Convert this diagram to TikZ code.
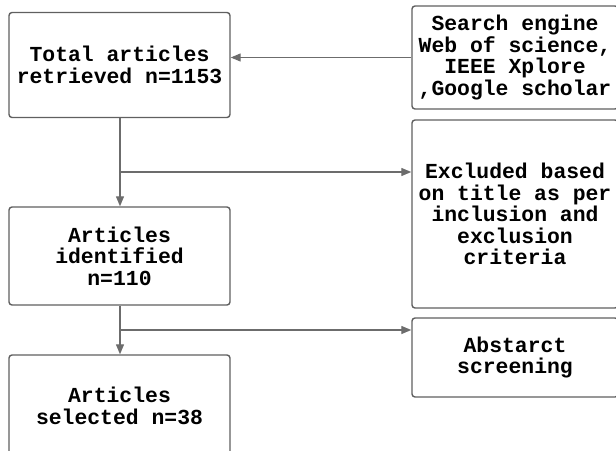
\documentclass[tikz,border=0pt]{standalone}
\usepackage{fontspec}
\setmonofont{Liberation Mono}
\usepackage{tikz}
\usetikzlibrary{arrows.meta}

\begin{document}
\begin{tikzpicture}[x=1pt,y=-1pt,
    box/.style={draw=gray!75!black,line width=1.4pt,rounded corners=3pt,fill=white,
        align=center,inner sep=0pt,font=\ttfamily\bfseries\fontsize{21.4}{21.6}\selectfont},
    link/.style={draw=gray!85!black,line width=1.3pt,-{Triangle[length=10pt,width=8pt]}}]
    \useasboundingbox (0,0) rectangle (616,450);
    \clip (0,0) rectangle (616,450);
    \node[box,minimum width=221pt,minimum height=105pt] (total) at (119.5,65) {Total articles\\retrieved n=1153};
    \node[box,minimum width=206pt,minimum height=103pt] (search) at (515,57.5) {Search engine\\Web of science,\\IEEE Xplore\\,Google scholar};
    \node[box,minimum width=206pt,minimum height=188pt] (excluded) at (515,214) {Excluded based\\on title as per\\inclusion and\\exclusion\\criteria};
    \node[box,minimum width=221pt,minimum height=98pt] (identified) at (119.5,256) {Articles\\identified\\n=110};
    \node[box,minimum width=206pt,minimum height=79pt] (abstract) at (515,357.5) {Abstarct\\screening};
    \node[box,minimum width=221pt,minimum height=102pt] (selected) at (119.5,406) {Articles\\selected n=38};
    \coordinate (split1) at (120,172);
    \coordinate (split2) at (120,330);
    \draw[link] (search.west) -- (search.west -| total.east);
    \draw[link] (total.south -| split1) -- (identified.north -| split1);
    \draw[link] (split1) -- (split1 -| excluded.west);
    \draw[link] (identified.south -| split2) -- (selected.north -| split2);
    \draw[link] (split2) -- (split2 -| abstract.west);
\end{tikzpicture}
\end{document}
